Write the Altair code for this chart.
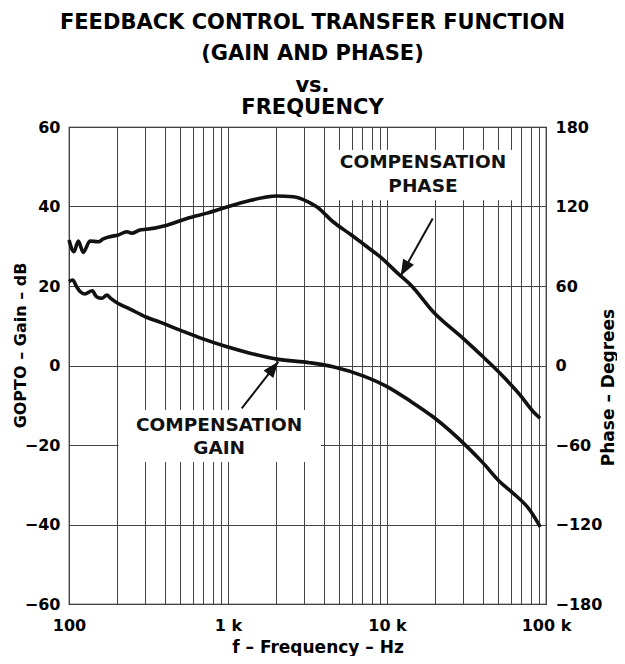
import altair as alt
import pandas as pd

# ---------------- data ----------------
gain_freq = [100, 105.5, 111.8, 117.3, 126, 140, 149, 161, 173, 183, 204, 242, 305, 373,
             499, 696, 986, 1375, 2033, 3279, 4575, 7066, 10000, 13960, 19460, 31850,
             40160, 51400, 62000, 79300, 92000]
gain_db = [21.1, 21.5, 19.8, 18.6, 18.0, 18.8, 17.3, 16.9, 17.7, 16.9, 15.6, 14.2, 12.2, 10.9,
           8.9, 6.7, 4.7, 3.1, 1.6, 0.7, -0.3, -2.6, -5.3, -8.9, -12.9, -20.4,
           -24.5, -29.3, -32.1, -36.4, -40.6]

phase_freq = [100, 107.5, 114.4, 123, 135.5, 152.8, 164.3, 181, 204, 230.6, 247.9, 279.6, 308,
              413, 552, 738, 986, 1316, 2033, 2564, 3279, 3613, 4575, 5853, 7485, 9036,
              11510, 14300, 19500, 30100, 40160, 51400, 68600, 83200, 91700]
phase_deg = [94.7, 85.9, 94.0, 85.4, 94.0, 93.4, 95.5, 97.2, 98.5, 101.0, 99.8, 102.3, 102.8,
             105.9, 111.0, 115.0, 119.6, 124.0, 127.9, 127.4, 122.8, 119.8, 108.5, 99.2, 89.6, 82.1,
             70.3, 60.0, 40.6, 20.5, 6.6, -5.9, -22.2, -34.9, -39.8]

x_grid = [100, 200, 300, 400, 500, 600, 700, 800, 900,
          1000, 2000, 3000, 4000, 5000, 6000, 7000, 8000, 9000,
          10000, 20000, 30000, 40000, 50000, 60000, 70000, 80000, 90000, 100000]
x_tick_text = {100: "100", 1000: "1 k", 10000: "10 k", 100000: "100 k"}
gain_ticks = [-60, -40, -20, 0, 20, 40, 60]
phase_ticks = [-180, -120, -60, 0, 60, 120, 180]

title_lines = ["FEEDBACK CONTROL TRANSFER FUNCTION", "(GAIN AND PHASE)"]
subtitle_lines = ["vs.", "FREQUENCY"]

# annotation labels (frequency, gain-dB coordinates)
label_text = ["COMPENSATION", "PHASE", "COMPENSATION", "GAIN"]
label_f = [16840, 16840, 880, 880]
label_db = [49.6, 43.7, -16.5, -22.3]

# white label backgrounds (interrupt the grid like the original)
box_f1 = [4380, 205]
box_f2 = [64770, 3846]
box_db1 = [54.2, -11.2]
box_db2 = [41.6, -24.3]

# arrows: start -> tip
arrow_f1 = [19390, 1220]
arrow_db1 = [37.0, -10.77]
arrow_f2 = [12200, 2072]
arrow_db2 = [22.6, 0.96]
arrow_angle = [209.1, 38.15]

# ---------------- chart ----------------
FONT = "DejaVu Sans"
INK = "#111111"

gain_df = pd.DataFrame({"f": gain_freq, "v": gain_db})
phase_df = pd.DataFrame({"f": phase_freq, "v": phase_deg})
label_df = pd.DataFrame({"f": label_f, "v": label_db, "t": label_text})
box_df = pd.DataFrame({"f1": box_f1, "f2": box_f2, "v1": box_db1, "v2": box_db2})
arrow_df = pd.DataFrame({"f1": arrow_f1, "v1": arrow_db1, "f2": arrow_f2, "v2": arrow_db2,
                         "ang": arrow_angle})

xscale = alt.Scale(type="log", domain=[100, 100000], nice=False)
yscale = alt.Scale(domain=[-60, 60], nice=False, zero=False)
pscale = alt.Scale(domain=[-180, 180], nice=False, zero=False)

label_expr = " : ".join(
    f"datum.value == {k} ? '{v}'" for k, v in x_tick_text.items()
) + " : ''"

x_axis = alt.Axis(
    values=x_grid, labelExpr=label_expr, grid=True, gridColor="#444444", gridWidth=1,
    ticks=False, domain=False, labelFont=FONT, labelFontSize=16, labelFontWeight="bold",
    labelColor="black", labelPadding=13, labelFlush=False, labelOverlap=False,
    title="f – Frequency – Hz", titleFont=FONT, titleFontSize=17, titleFontWeight="bold",
    titleColor="black", titleX=248.5, titleY=48, titleBaseline="alphabetic",
)
y_axis = alt.Axis(
    values=gain_ticks, grid=True, gridColor="#444444", gridWidth=1, ticks=False, domain=False,
    labelFont=FONT, labelFontSize=16, labelFontWeight="bold", labelColor="black",
    labelPadding=9, title="GOPTO – Gain – dB", titleFont=FONT, titleFontSize=16,
    titleFontWeight="bold", titleColor="black", titleAngle=270, titleX=-44, titleY=218,
    titleBaseline="alphabetic", titleAlign="center",
)
p_axis = alt.Axis(
    orient="right", values=phase_ticks, grid=False, ticks=False, domain=False,
    labelFont=FONT, labelFontSize=16, labelFontWeight="bold", labelColor="black",
    labelPadding=9, title="Phase – Degrees", titleFont=FONT, titleFontSize=17,
    titleFontWeight="bold", titleColor="black", titleAngle=270, titleX=67, titleY=260,
    titleBaseline="alphabetic", titleAlign="center",
)


def X(field):
    return alt.X(field, type="quantitative", scale=xscale, axis=x_axis)


def Y(field):
    return alt.Y(field, type="quantitative", scale=yscale, axis=y_axis)


boxes = alt.Chart(box_df).mark_rect(fill="white", strokeWidth=0).encode(
    x=X("f1"), x2="f2", y=Y("v1"), y2="v2",
)
labels = alt.Chart(label_df).mark_text(
    font=FONT, fontSize=18.5, fontWeight="bold", color=INK, baseline="alphabetic", align="center"
).encode(x=X("f"), y=Y("v"), text="t:N")
arrow_lines = alt.Chart(arrow_df).mark_rule(color=INK, strokeWidth=2).encode(
    x=X("f1"), x2="f2", y=Y("v1"), y2="v2",
)
arrow_heads = alt.Chart(arrow_df).mark_point(
    shape="M0,0L-0.62,1.6L0.62,1.6Z", filled=True, color=INK, opacity=1, size=400, strokeWidth=0
).encode(x=X("f2"), y=Y("v2"), angle=alt.Angle("ang:Q", scale=None))
gain_line = alt.Chart(gain_df).mark_line(color=INK, strokeWidth=3.6, interpolate="monotone").encode(
    x=X("f"), y=Y("v"),
)
gain_part = alt.layer(boxes, labels, arrow_lines, gain_line, arrow_heads)

phase_line = alt.Chart(phase_df).mark_line(color=INK, strokeWidth=3.6, interpolate="monotone").encode(
    x=X("f"),
    y=alt.Y("v:Q", scale=pscale, axis=p_axis),
)

chart = alt.layer(gain_part, phase_line).resolve_scale(y="independent").properties(
    width=477, height=477,
    title=alt.TitleParams(
        text=title_lines, subtitle=subtitle_lines, font=FONT, fontSize=21, fontWeight="bold",
        color="black", subtitleFont=FONT, subtitleFontSize=21, subtitleFontWeight="bold",
        subtitleColor="black", lineHeight=31, subtitleLineHeight=22, subtitlePadding=11.5,
        anchor="middle", dx=5, offset=1,
    ),
    autosize=alt.AutoSizeParams(type="none"),
    padding={"left": 61, "top": 119, "right": 71, "bottom": 52},
).configure_view(stroke="black", strokeWidth=1.2)

chart.save("out.html", embed_options={"renderer": "svg", "actions": False})
